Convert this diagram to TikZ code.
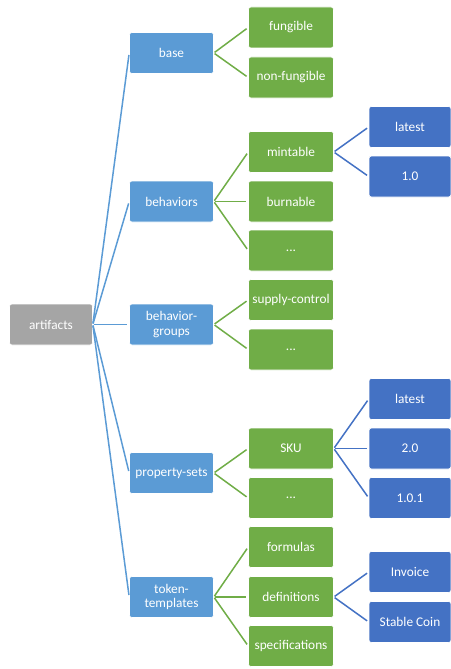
\documentclass[tikz,border=0pt]{standalone}
\usepackage{fontspec}
\setmainfont{Carlito}
\begin{document}
\begin{tikzpicture}[x=1pt,y=-1pt,
  box/.style={rectangle,rounded corners=2.5pt,draw=white,line width=0.6pt,text=white,
    minimum height=41pt,align=center,inner sep=1pt,font=\fontsize{13.3}{14.5}\selectfont},
  grey/.style={box,fill=gray0,minimum width=83pt},
  lvone/.style={box,fill=blue1,minimum width=84pt},
  lvtwo/.style={box,fill=green1,minimum width=85pt},
  lvthree/.style={box,fill=blue2,minimum width=82pt},
  bl/.style={draw=blue1,line width=1.5pt,shorten <=1pt,shorten >=2pt},
  gl/.style={draw=green1,line width=1.5pt,shorten <=1pt,shorten >=2pt},
  dl/.style={draw=blue2,line width=1.5pt,shorten <=1pt,shorten >=2pt}]
\definecolor{gray0}{HTML}{A5A5A5}
\definecolor{blue1}{HTML}{5B9BD5}
\definecolor{green1}{HTML}{70AD47}
\definecolor{blue2}{HTML}{4472C4}
\useasboundingbox (0,0) rectangle (450,669);
% root
\node[grey] (art) at (51,324.5) {artifacts};
% level 1
\node[lvone] (base) at (171.5,53) {base};
\node[lvone] (beh) at (171.5,201.5) {behaviors};
\node[lvone] (bgr) at (171.5,324.5) {behavior-\\groups};
\node[lvone] (ps) at (171.5,473) {property-sets};
\node[lvone] (tt) at (171.5,597) {token-\\templates};
% level 2
\node[lvtwo] (fun) at (291,27.5) {fungible};
\node[lvtwo] (nfun) at (291,77.5) {non-fungible};
\node[lvtwo] (mint) at (291,152) {mintable};
\node[lvtwo] (burn) at (291,201.5) {burnable};
\node[lvtwo] (bdots) at (291,250.5) {...};
\node[lvtwo] (sup) at (291,300) {supply-control};
\node[lvtwo] (gdots) at (291,349.5) {...};
\node[lvtwo] (sku) at (291,448.5) {SKU};
\node[lvtwo] (pdots) at (291,498) {...};
\node[lvtwo] (form) at (291,547) {formulas};
\node[lvtwo] (defs) at (291,597) {definitions};
\node[lvtwo] (spec) at (291,646) {specifications};
% level 3
\node[lvthree] (mlat) at (410,127) {latest};
\node[lvthree] (m10) at (410,176.5) {1.0};
\node[lvthree] (slat) at (410,399) {latest};
\node[lvthree] (s20) at (410,448.5) {2.0};
\node[lvthree] (s101) at (410,498) {1.0.1};
\node[lvthree] (inv) at (410,572) {Invoice};
\node[lvthree] (sc) at (410,622) {Stable Coin};
% connectors
\foreach \c in {base,beh,bgr,ps,tt} \draw[bl] (art.east) -- (\c.west);
\foreach \c in {fun,nfun} \draw[gl] (base.east) -- (\c.west);
\foreach \c in {mint,burn,bdots} \draw[gl] (beh.east) -- (\c.west);
\foreach \c in {sup,gdots} \draw[gl] (bgr.east) -- (\c.west);
\foreach \c in {sku,pdots} \draw[gl] (ps.east) -- (\c.west);
\foreach \c in {form,defs,spec} \draw[gl] (tt.east) -- (\c.west);
\foreach \c in {mlat,m10} \draw[dl] (mint.east) -- (\c.west);
\foreach \c in {slat,s20,s101} \draw[dl] (sku.east) -- (\c.west);
\foreach \c in {inv,sc} \draw[dl] (defs.east) -- (\c.west);
\end{tikzpicture}
\end{document}
